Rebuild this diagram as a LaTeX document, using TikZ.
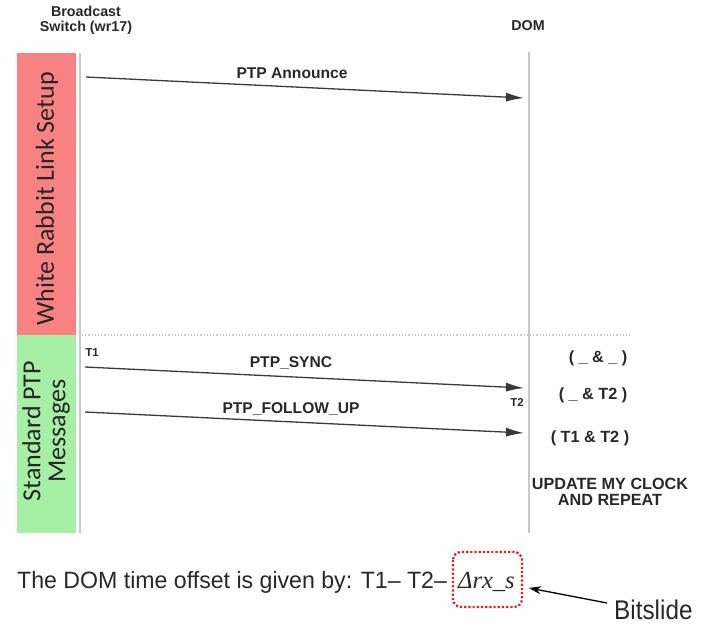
\documentclass[tikz,border=0pt]{standalone}
\usepackage{fontspec}
\setmainfont{Liberation Sans}
\newfontfamily\calib{Carlito}
\newfontfamily\tms{Liberation Serif}
\usetikzlibrary{arrows.meta}

\definecolor{setupred}{RGB}{248,130,130}
\definecolor{ptpgreen}{RGB}{166,240,166}
\definecolor{lifegrey}{RGB}{200,200,200}
\definecolor{msgdark}{RGB}{58,58,58}
\definecolor{txtdark}{RGB}{40,40,40}
\definecolor{slidered}{RGB}{224,32,32}

\begin{document}
\begin{tikzpicture}[x=1pt,y=-1pt,
  lifeline/.style={draw=lifegrey,line width=1.8pt},
  msg/.style={draw=msgdark,line width=1.3pt,-{Latex[length=18pt,width=9pt]}},
  msglabel/.style={font=\bfseries\fontsize{15.6}{17}\selectfont,text=txtdark,inner sep=0pt},
  stamp/.style={font=\bfseries\fontsize{11.5}{12}\selectfont,text=txtdark,inner sep=0pt},
  head/.style={font=\bfseries\fontsize{14.3}{15}\selectfont,text=txtdark,align=center,inner sep=0pt},
  state/.style={font=\bfseries\fontsize{16.2}{15.5}\selectfont,text=txtdark,align=center,inner sep=0pt},
  phase/.style={font=\calib\fontsize{26}{26}\selectfont,text=black!85,rotate=90,align=center,inner sep=0pt}]
\useasboundingbox (0,0) rectangle (701,626);

% phase bars
\fill[setupred] (17,53) rectangle (76,335);
\fill[ptpgreen] (17,335) rectangle (76,533);
\node[phase] (setup) at (47,199) {White Rabbit Link Setup};
\node[phase,font=\calib\fontsize{26}{25}\selectfont] (std) at (46,431) {Standard PTP\\Messages};

% participants
\node[head] (sw) at (86,20) {Broadcast\\Switch (wr17)};
\node[head] (dom) at (528,26) {DOM};

% lifelines
\coordinate (swtop) at (80,53);
\coordinate (swbot) at (80,533);
\coordinate (domtop) at (529,52);
\coordinate (dombot) at (529,533);
\draw[lifeline] (swtop) -- (swbot);
\draw[lifeline] (domtop) -- (dombot);

% phase separator
\coordinate (sepl) at (82,335);
\coordinate (sepr) at (632,335);
\draw[lifegrey,line width=1.2pt,dotted] (sepl) -- (sepr);

% messages
\coordinate (a1) at (86,77);  \coordinate (a2) at (524,98);
\coordinate (s1) at (85,367); \coordinate (s2) at (524,388);
\coordinate (f1) at (85,412); \coordinate (f2) at (524,433);
\draw[msg] (a1) -- (a2);
\draw[msg] (s1) -- (s2);
\draw[msg] (f1) -- (f2);
\node[msglabel] (lann) at (292,73) {PTP Announce};
\node[msglabel] (lsync) at (291,363) {PTP\_SYNC};
\node[msglabel] (lfol) at (291,409) {PTP\_FOLLOW\_UP};
\node[stamp] (t1) at (92,353) {T1};
\node[stamp] (t2) at (517,402) {T2};

% DOM state
\node[state] (st1) at (598,358) {( \_ \& \_ )};
\node[state] (st2) at (593,395) {( \_ \& T2 )};
\node[state] (st3) at (590,438) {( T1 \& T2 )};
\node[state] (st4) at (610,492) {UPDATE MY CLOCK\\AND REPEAT};

% offset formula
\node[anchor=base west,inner sep=0pt,text=txtdark,font=\fontsize{23.6}{25}\selectfont] (formula) at (17,588)
  {\scalebox{0.98}[1]{The DOM time offset is given by: T1– T2–}};
\node[anchor=base west,inner sep=0pt,text=txtdark,font=\tms\itshape\fontsize{24.5}{25}\selectfont] (delta) at (458,588) {Δrx\_s};
\draw[slidered,line width=2.2pt,dotted,rounded corners=8pt] (453,552) rectangle (522,607);
\node[anchor=base west,inner sep=0pt,text=txtdark,font=\fontsize{27}{28}\selectfont] (bits) at (614,619)
  {\scalebox{0.9}[1]{Bitslide}};
\coordinate (bitsfrom) at (607,603);
\coordinate (bitsto) at (529,588);
\draw[black,line width=1.3pt,-{Stealth[length=12pt,width=8pt]}] (bitsfrom) -- (bitsto);
\end{tikzpicture}
\end{document}
